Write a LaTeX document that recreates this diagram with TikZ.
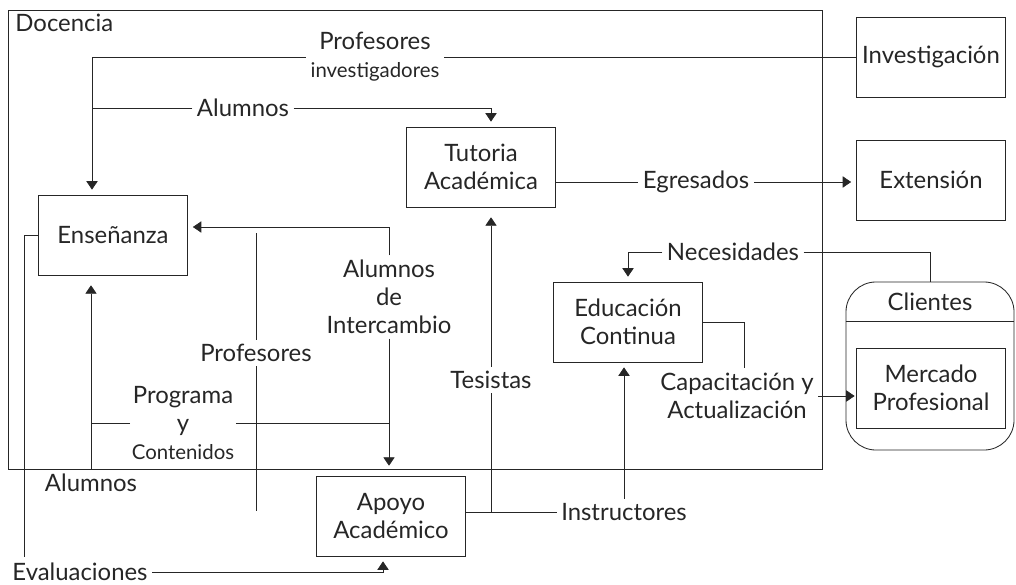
\documentclass[tikz,border=0pt]{standalone}
\usepackage{fontspec}
\setmainfont{Lato}
\usetikzlibrary{arrows.meta, calc}
\newcommand{\pxunit}{0.025cm}
\newcommand{\smalltxt}{\fontsize{14.5}{16}\selectfont}

\begin{document}
\begin{tikzpicture}[x=\pxunit, y=-\pxunit, color=black!85, line width=0.6pt]
\useasboundingbox (0,0) rectangle (1016,584);
\tikzstyle{every node}=[font=\fontsize{17}{20}\selectfont, align=center]
\tikzstyle{box}=[draw, minimum width=3.725cm, minimum height=2cm, inner sep=0pt]
\tikzstyle{lbl}=[inner sep=3pt]
\tikzstyle{flow}=[-{Triangle[width=8pt,length=6pt]}, shorten >=3.5pt]
% Docencia frame
\draw (8,10) rectangle (822,469);
\node[anchor=north west, inner sep=0pt] (doc) at (15,14) {Docencia};
% boxes
\node[box] (inv) at (931,57) {Investigación};
\node[box] (ext) at (931,180) {Extensión};
\node[box] (tut) at (481,167) {Tutoria\\Académica};
\node[box] (ens) at (113,235) {Enseñanza};
\node[box] (edu) at (628,322) {Educación\\Continua};
\node[box] (apo) at (391,516) {Apoyo\\Académico};
\node[draw, rounded corners=0.75cm, minimum width=4.2cm, minimum height=4.2cm] (cli) at (930,366) {};
\node (clitxt) at (930,302) {Clientes};
\draw ($(cli.north west)+(0,40)$) -- ($(cli.north east)+(0,40)$);
\node[box] (merc) at (931,388) {Mercado\\Profesional};
% labels
\node[lbl] (profinv) at (375,57) {Profesores\\{\smalltxt investigadores}};
\node[lbl] (alu1) at (243,108) {Alumnos};
\node[lbl] (egr) at (696,182) {Egresados};
\node[lbl] (intc) at (389,297) {Alumnos\\de\\Intercambio};
\node[lbl] (prof) at (256,353) {Profesores};
\node[lbl, inner sep=1pt] (prog) at (183,423) {Programa\\y\\{\smalltxt Contenidos}};
\node[lbl] (alu2) at (91,483) {Alumnos};
\node[lbl] (tes) at (491,380) {Tesistas};
\node[lbl] (instr) at (624,512) {Instructores};
\node[lbl] (nec) at (733,252) {Necesidades};
\node[lbl] (cap) at (737,396) {Capacitación y\\Actualización};
\node[lbl] (eval) at (80,572) {Evaluaciones};
\coordinate (ensIn) at ($(ens.north)+(-21,0)$);
\coordinate (pfTop) at (256,233);
\coordinate (pfBot) at (256,511);
\coordinate (lft) at (24,557);
% connectors
\draw (inv.west) -- (profinv.east |- inv.west);
\draw[flow] (profinv.west) -| (ensIn);
\draw (alu1.west) -- (alu1.west -| ensIn);
\draw[flow] (alu1.east) -| ($(tut.north)+(10,0)$);
\draw (egr.west) -- (egr.west -| tut.east);
\draw[flow] (egr.east) -- (egr.east -| ext.west);
\draw[flow] (intc.north) |- ($(ens.east)+(0,-8)$);
\draw[flow, shorten >=7pt] (intc.south) -- (intc.south |- apo.north);
\draw (prog.east) -- (prog.east -| intc.south);
\draw (prog.west) -- (prog.west -| alu2.north);
\draw[flow, shorten >=7pt] (alu2.north) -- (alu2.north |- ens.south);
\draw (pfTop) -- (prof.north);
\draw (prof.south) -- (pfBot);
\draw[flow, shorten >=7pt] (tes.north) -- (tes.north |- tut.south);
\draw (tes.south) -- (tes.south |- instr.west);
\draw (instr.west -| apo.east) -- (instr.west);
\draw[flow] (instr.north) -- (instr.north |- edu.south);
\draw[flow] (nec.west) -| (edu.north);
\draw (nec.east) -| (cli.north);
\draw (edu.east) -| ($(cap.north)+(7,0)$);
\draw[flow, shorten >=1pt] (cap.east) -- (cap.east -| merc.west);
\draw[flow] (eval.east) -| ($(apo.south)+(-8,0)$);
\draw (ens.west) -| (lft);
\end{tikzpicture}
\end{document}
